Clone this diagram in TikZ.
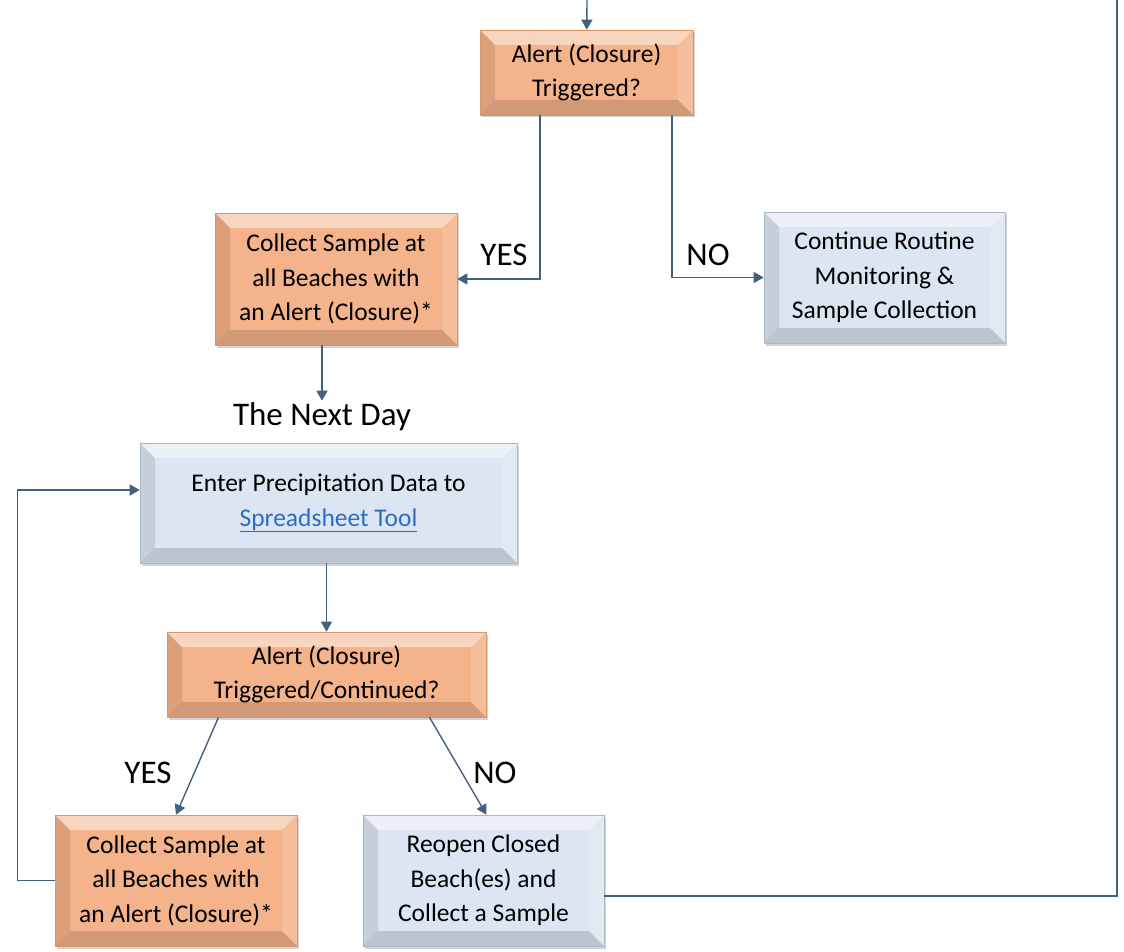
\documentclass[tikz,border=0pt]{standalone}
\usepackage{fontspec}
\setmainfont{Carlito}
\usetikzlibrary{arrows.meta,shadows}

\definecolor{orangefill}{HTML}{F4B38A}
\definecolor{orangeedge}{HTML}{D99868}
\definecolor{bluefill}{HTML}{DCE6F2}
\definecolor{blueedge}{HTML}{A9B8CA}
\definecolor{linkblue}{HTML}{2E6CC4}
\definecolor{flowline}{HTML}{44607F}

\tikzset{
  bevel/.style={path picture={
    \coordinate (nw) at (path picture bounding box.north west);
    \coordinate (ne) at (path picture bounding box.north east);
    \coordinate (sw) at (path picture bounding box.south west);
    \coordinate (se) at (path picture bounding box.south east);
    \fill[white, opacity=.45] (nw) -- (ne) -- ([shift={(-15pt,-15pt)}]ne) -- ([shift={(15pt,-15pt)}]nw) -- cycle;
    \fill[black, opacity=.10] (nw) -- (sw) -- ([shift={(15pt,15pt)}]sw) -- ([shift={(15pt,-15pt)}]nw) -- cycle;
    \fill[white, opacity=.15] (ne) -- (se) -- ([shift={(-15pt,15pt)}]se) -- ([shift={(-15pt,-15pt)}]ne) -- cycle;
    \fill[black, opacity=.14] (sw) -- (se) -- ([shift={(-15pt,15pt)}]se) -- ([shift={(15pt,15pt)}]sw) -- cycle;
  }},
  flowbox/.style={bevel, inner sep=0pt, align=center, line width=0.6pt,
    font=\fontsize{25.5}{34.5}\selectfont,
    drop shadow={shadow xshift=2pt, shadow yshift=-2.5pt, opacity=.35, fill=gray}},
  orangebox/.style={flowbox, fill=orangefill, draw=orangeedge},
  bluebox/.style={flowbox, fill=bluefill, draw=blueedge},
  arr/.style={-{Triangle[width=11pt,length=10pt]}, line width=1.4pt, draw=flowline},
  plain/.style={line width=1.4pt, draw=flowline},
  answer/.style={font=\fontsize{33}{35}\selectfont}
}

\begin{document}
\begin{tikzpicture}[x=1pt, y=-1pt]
    \useasboundingbox (0,0) rectangle (1124,952);

    % First check
    \coordinate (entry) at (587,0);
    \node[orangebox, minimum width=213, minimum height=85] (alert) at (586.5,72.5)
        {Alert (Closure)\\Triggered?};

    % Outcomes of the first check
    \node[orangebox, minimum width=242, minimum height=132] (collectA) at (336,279)
        {Collect Sample at\\all Beaches with\\an Alert (Closure)*};
    \node[bluebox, minimum width=241, minimum height=131] (routine) at (884.5,277.5)
        {Continue Routine\\Monitoring \&\\Sample Collection};

    % Next day
    \node[answer, inner sep=2pt] (nextday) at (322,417) {The Next Day};
    \node[bluebox, minimum width=377, minimum height=120] (enter) at (328.5,503)
        {Enter Precipitation Data to\\\textcolor{linkblue}{\underline{Spreadsheet Tool}}};

    % Second check
    \node[orangebox, minimum width=319, minimum height=85] (alertB) at (326.5,674.5)
        {Alert (Closure)\\Triggered/Continued?};
    \node[orangebox, minimum width=242, minimum height=131] (collectB) at (176,880.5)
        {Collect Sample at\\all Beaches with\\an Alert (Closure)*};
    \node[bluebox, minimum width=241, minimum height=131] (reopen) at (483.5,880.5)
        {Reopen Closed\\Beach(es) and\\Collect a Sample};

    % Answer labels
    \node[answer] (yesA) at (504,255) {YES};
    \node[answer] (noA) at (708,255) {NO};
    \node[answer] (yesB) at (148,773) {YES};
    \node[answer] (noB) at (495,773) {NO};

    % Connectors
    \draw[arr] (entry) -- (alert);
    \draw[arr] ([xshift=-46.5]alert.south) |- (collectA.east);
    \draw[arr] ([xshift=85.5]alert.south) |- (routine.west);
    \draw[arr] (collectA.south -| nextday) -- (nextday);
    \draw[arr] (alertB.north |- enter.south) -- (alertB.north);
    \draw[arr] ([xshift=-108]alertB.south) -- (collectB.north);
    \draw[arr] ([xshift=103]alertB.south) -- ([xshift=3]reopen.north);

    % Loops back
    \draw[arr] (collectB.west) -- ++(-37,0) |- ([yshift=13]enter.west);
    \coordinate (exit) at (1117,0);
    \draw[plain] ([yshift=-15.5]reopen.east) -| (exit);
\end{tikzpicture}
\end{document}
